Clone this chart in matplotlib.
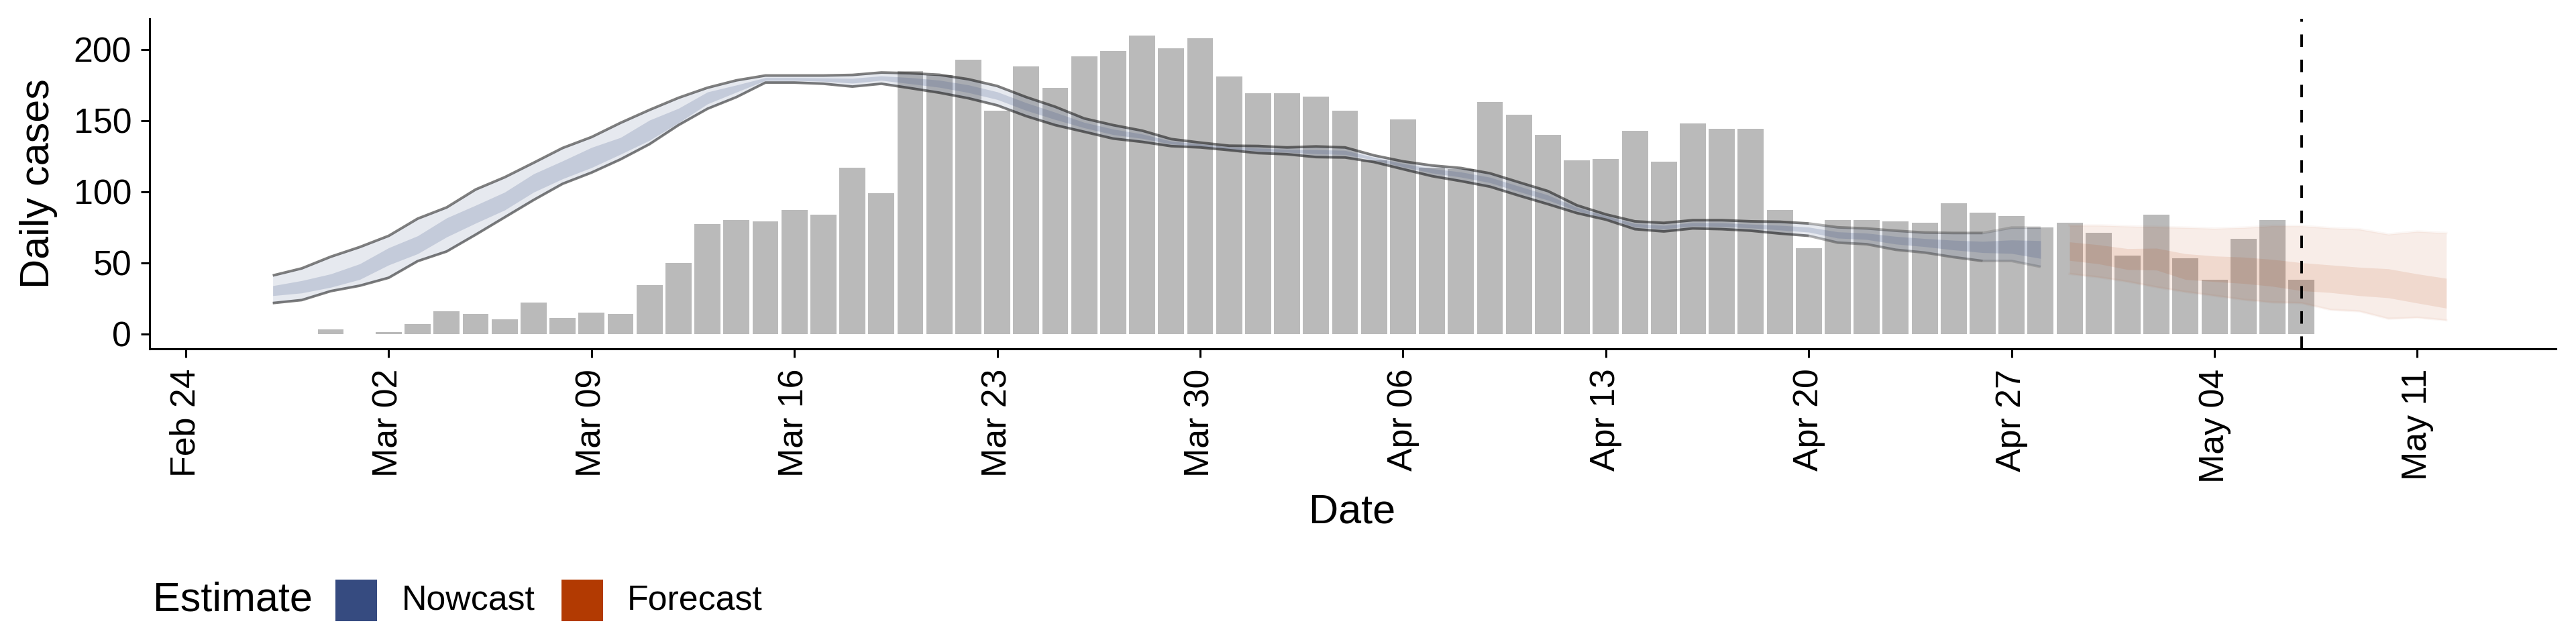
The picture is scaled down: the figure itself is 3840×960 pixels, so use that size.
import numpy as np
import matplotlib
matplotlib.use("Agg")
import matplotlib.pyplot as plt
import matplotlib.dates as mdates
from matplotlib.patches import Rectangle

plt.rcParams['font.family'] = ['Liberation Sans', 'DejaVu Sans']
plt.rcParams['lines.scale_dashes'] = False

# ---------------- data ----------------
case_start = "2020-02-29"
cases = [3, 0, 1, 7, 16, 14, 10, 22, 11, 15,
         14, 34, 50, 77, 80, 79, 87, 84, 117, 99,
         185, 182, 193, 157, 188, 173, 195, 199, 210, 201,
         208, 181, 169, 169, 167, 157, 122, 151, 117, 116,
         163, 154, 140, 122, 123, 143, 121, 148, 144, 144,
         87, 60, 80, 80, 79, 78, 92, 85, 83, 75,
         78, 71, 55, 84, 53, 38, 67, 80, 38]

nowcast_start = "2020-02-27"
now_upper90 = [41.0, 46.0, 54.2, 61.0, 68.9, 81.0, 88.9, 101.5, 110.1, 120.3,
               130.7, 138.4, 148.4, 157.5, 166.0, 173.1, 178.3, 181.7, 181.7, 181.7,
               182.1, 183.8, 183.3, 182.2, 179.1, 174.3, 166.5, 159.7, 151.5, 146.8,
               142.9, 137.0, 134.5, 132.3, 132.1, 131.1, 131.8, 131.1, 125.5, 121.3,
               118.4, 116.6, 112.9, 106.6, 100.4, 90.4, 84.0, 79.1, 78.0, 79.9,
               79.9, 79.1, 78.8, 77.6, 74.9, 74.1, 72.5, 71.2, 70.9, 70.9,
               74.7, 74.7]
now_upper50 = [33.8, 37.4, 42.1, 49.2, 60.5, 68.9, 81.5, 90.4, 99.6, 112.5,
               121.6, 131.1, 138.1, 150.3, 158.6, 170.1, 175.0, 180.2, 180.2, 180.0,
               179.7, 181.4, 180.2, 178.4, 175.1, 170.2, 162.5, 155.8, 148.7, 144.0,
               140.5, 135.5, 133.5, 131.4, 130.6, 129.7, 129.5, 129.0, 124.1, 119.7,
               116.2, 113.8, 110.1, 103.8, 97.6, 88.8, 82.9, 77.5, 76.2, 78.2,
               78.0, 77.1, 76.3, 75.0, 71.7, 70.8, 68.5, 67.0, 65.8, 65.0,
               66.0, 65.5]
now_lower50 = [26.8, 28.7, 32.7, 38.2, 48.4, 56.3, 68.1, 77.8, 87.0, 99.6,
               109.0, 116.9, 126.3, 136.1, 148.4, 161.7, 170.0, 178.2, 178.2, 177.6,
               176.3, 178.3, 175.9, 173.4, 169.7, 164.8, 157.1, 150.7, 144.9, 140.1,
               137.4, 133.5, 132.1, 130.1, 128.6, 127.7, 126.6, 126.1, 122.2, 117.4,
               113.1, 110.2, 106.3, 100.0, 94.0, 86.5, 81.4, 75.2, 73.8, 75.8,
               75.5, 74.5, 73.0, 71.5, 67.3, 66.3, 63.1, 61.3, 59.0, 57.1,
               56.5, 53.0]
now_lower90 = [21.6, 23.7, 30.0, 33.8, 39.4, 51.1, 57.9, 69.7, 81.9, 94.1,
               105.5, 113.4, 122.7, 133.4, 146.8, 158.3, 166.5, 176.7, 176.7, 175.9,
               173.9, 175.9, 172.8, 169.6, 165.7, 160.7, 153.1, 146.8, 142.1, 137.3,
               135.0, 132.0, 131.1, 129.2, 127.1, 126.3, 124.3, 124.0, 120.8, 115.8,
               110.9, 107.4, 103.5, 97.2, 91.2, 84.9, 80.3, 73.6, 72.0, 74.1,
               73.6, 72.5, 70.5, 68.9, 64.1, 63.0, 59.1, 57.1, 53.9, 51.2,
               51.2, 47.1]

forecast_start = "2020-04-29"
fc_upper90 = [76.3, 76.3, 75.7, 75.2, 74.7, 74.1, 74.7, 75.9, 75.9, 74.4, 73.6, 70.0, 72.0, 70.9]
fc_upper50 = [64.6, 62.6, 59.9, 60.2, 56.3, 54.7, 53.9, 52.3, 50.0, 48.4, 46.8, 45.7, 42.1, 39.0]
fc_lower50 = [51.6, 49.2, 45.2, 44.8, 38.2, 36.7, 35.4, 33.4, 30.3, 29.0, 26.8, 25.3, 21.6, 18.0]
fc_lower90 = [42.1, 39.8, 36.7, 32.8, 29.5, 26.8, 24.0, 22.1, 21.6, 16.9, 15.8, 10.6, 11.4, 9.5]

report_date = "2020-05-07"
tick_dates = ["2020-02-24", "2020-03-02", "2020-03-09", "2020-03-16", "2020-03-23",
              "2020-03-30", "2020-04-06", "2020-04-13", "2020-04-20", "2020-04-27",
              "2020-05-04", "2020-05-11"]
y_ticks = [0, 50, 100, 150, 200]
legend_labels = ["Nowcast", "Forecast"]

# ---------------- helpers ----------------
def day_series(start, n):
    d = np.arange(np.datetime64(start), np.datetime64(start) + np.timedelta64(n, 'D'))
    return mdates.date2num(d)

x_cases = day_series(case_start, len(cases))
x_now = day_series(nowcast_start, len(now_upper90))
x_fc = day_series(forecast_start, len(fc_upper90))
x_report = mdates.date2num(np.datetime64(report_date))
x_ticks = mdates.date2num(np.array(tick_dates, dtype='datetime64[D]'))

NOW_COL = "#364B80"
FC_COL = "#B23A02"
BAR_COL = "#BABABA"

W, H, DPI = 3840, 960, 200
fig = plt.figure(figsize=(W / DPI, H / DPI), dpi=DPI)
ax = fig.add_axes([223 / W, 1 - 520 / H, (3810 - 223) / W, (520 - 28) / H])

# bars
ax.bar(x_cases, cases, width=0.9, color=BAR_COL, zorder=1, linewidth=0)

# nowcast ribbons
ax.fill_between(x_now, now_lower90, now_upper90, color=NOW_COL, alpha=0.12, linewidth=0, zorder=2)
ax.fill_between(x_now, now_lower50, now_upper50, color=NOW_COL, alpha=0.19, linewidth=0, zorder=2)

# forecast ribbons
ax.fill_between(x_fc, fc_lower90, fc_upper90, color=FC_COL, alpha=0.09, linewidth=0, zorder=2)
ax.fill_between(x_fc, fc_lower50, fc_upper50, color=FC_COL, alpha=0.11, linewidth=0, zorder=2)
for arr in (fc_lower90, fc_upper90):
    ax.plot(x_fc, arr, color=FC_COL, alpha=0.04, lw=1.3, zorder=2)

# nowcast outline lines (fading where data are partial)
segs = [(0, 54, 0.5), (53, 60, 0.3), (59, 62, 0.15)]
for a, b, al in segs:
    for arr in (now_upper90, now_lower90):
        ax.plot(x_now[a:b], arr[a:b], color="black", alpha=al, lw=1.4,
                solid_capstyle='butt', solid_joinstyle='round', zorder=3)

# report date
ax.plot([x_report, x_report], [0, 1], transform=ax.get_xaxis_transform(),
        color="black", lw=1.4, dashes=(6.7, 6.8), zorder=4, clip_on=False)

# axes
x0 = mdates.date2num(np.datetime64("2020-02-24")) - 1.25
x1 = mdates.date2num(np.datetime64("2020-05-11")) + 4.78
ax.set_xlim(x0, x1)
ax.set_ylim(-10.6, 221.6)
ax.set_xticks(x_ticks)
ax.set_xticklabels([mdates.num2date(t).strftime("%b %d") for t in x_ticks],
                   rotation=90, ha='center', va='top')
ax.set_yticks(y_ticks)
ax.set_yticklabels([str(v) for v in y_ticks])
for s in ("top", "right"):
    ax.spines[s].set_visible(False)
for s in ("left", "bottom"):
    ax.spines[s].set_linewidth(1.1)
ax.tick_params(axis='both', length=4.7, width=1.1, labelsize=18.7, colors='black')
ax.tick_params(axis='x', pad=6)
ax.tick_params(axis='y', pad=5)

fig.text(58 / W, 1 - 274 / H, "Daily cases", rotation=90, ha='center', va='center', fontsize=22)
fig.text(2016 / W, 1 - 764 / H, "Date", ha='center', va='center', fontsize=22)

# legend (manual, ggplot-like horizontal bottom legend)
fig.text(228 / W, 1 - 895 / H, "Estimate", ha='left', va='center', fontsize=22)
keys = [(500, NOW_COL, 599), (837, FC_COL, 935)]
for (kx, col, tx), lab in zip(keys, legend_labels):
    fig.patches.append(Rectangle((kx / W, 1 - 926 / H), 62 / W, 62 / H,
                                 transform=fig.transFigure, facecolor=col,
                                 edgecolor='none'))
    fig.text(tx / W, 1 - 895 / H, lab, ha='left', va='center', fontsize=18.7)

fig.savefig("out.png", dpi=DPI)
